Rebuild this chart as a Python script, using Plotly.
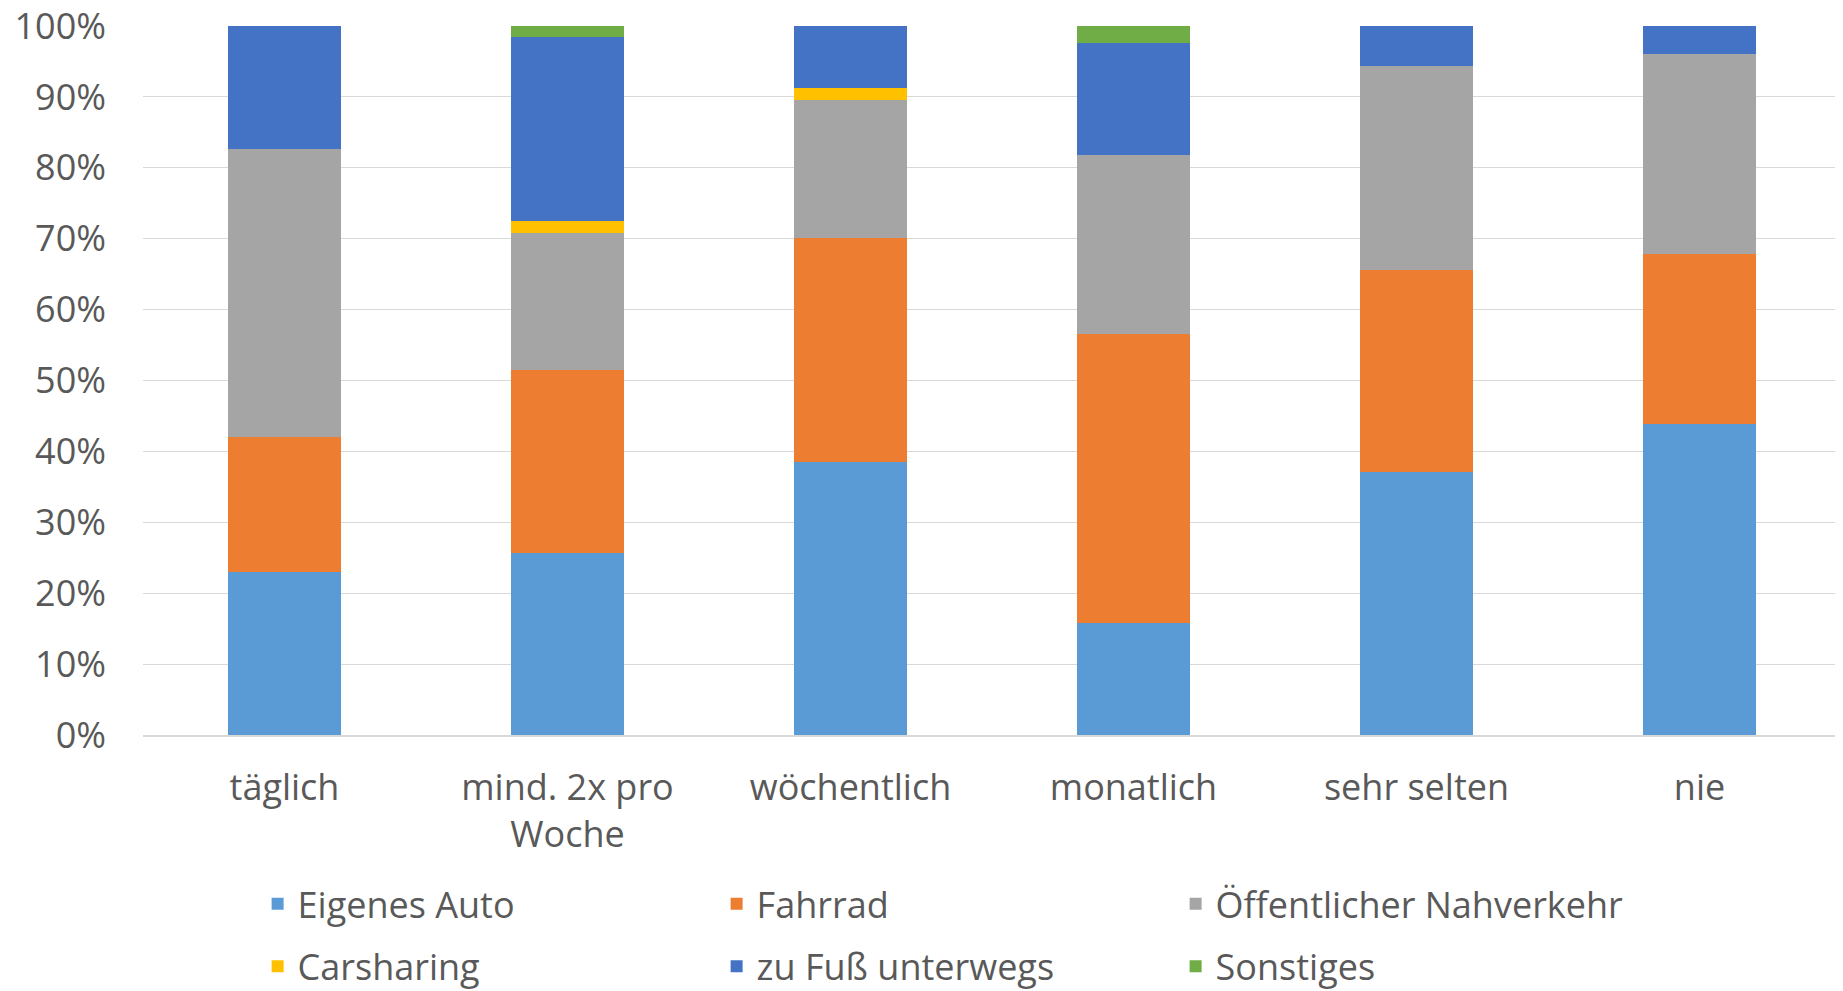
import plotly.graph_objects as go

categories = ["täglich", "mind. 2x pro<br>Woche", "wöchentlich", "monatlich", "sehr selten", "nie"]
eigenes_auto = [23.0, 25.7, 38.5, 15.8, 37.1, 43.9]
fahrrad = [19.1, 25.8, 31.6, 40.8, 28.5, 24.0]
oepnv = [40.5, 19.3, 19.4, 25.2, 28.7, 28.1]
carsharing = [0.0, 1.7, 1.7, 0.0, 0.0, 0.0]
zu_fuss = [17.4, 25.9, 8.8, 15.8, 5.7, 4.0]
sonstiges = [0.0, 1.6, 0.0, 2.4, 0.0, 0.0]
y_ticks = [0, 10, 20, 30, 40, 50, 60, 70, 80, 90, 100]
y_tick_labels = ["0%", "10%", "20%", "30%", "40%", "50%", "60%", "70%", "80%", "90%", "100%"]

series = [
    ("Eigenes Auto", eigenes_auto, "#5B9BD5", "legend"),
    ("Fahrrad", fahrrad, "#ED7D31", "legend"),
    ("Öffentlicher Nahverkehr", oepnv, "#A5A5A5", "legend"),
    ("Carsharing", carsharing, "#FFC000", "legend2"),
    ("zu Fuß unterwegs", zu_fuss, "#4472C4", "legend2"),
    ("Sonstiges", sonstiges, "#70AD47", "legend2"),
]

fig = go.Figure()
for name, vals, color, leg in series:
    fig.add_trace(go.Bar(x=categories, y=vals, name=name, marker_color=color,
                         marker_line_width=0, legend=leg))

font = dict(family="Open Sans, sans-serif", size=36, color="#595959")
fig.update_layout(
    barmode="stack",
    bargap=0.6,
    width=1835, height=983,
    margin=dict(l=135, r=2, t=18, b=256, autoexpand=False),
    paper_bgcolor="white", plot_bgcolor="white",
    font=font,
    showlegend=True,
    legend=dict(orientation="h", x=0.0675, y=-0.196, xanchor="left", yanchor="top",
                entrywidth=414, entrywidthmode="pixels", traceorder="normal",
                font=font, bgcolor="rgba(0,0,0,0)"),
    legend2=dict(orientation="h", x=0.0675, y=-0.284, xanchor="left", yanchor="top",
                 entrywidth=414, entrywidthmode="pixels", traceorder="normal",
                 font=font, bgcolor="rgba(0,0,0,0)"),
)
fig.update_yaxes(range=[0, 100], tickmode="array", tickvals=y_ticks, ticktext=y_tick_labels,
                 showgrid=True, gridcolor="#D9D9D9", gridwidth=1, zeroline=False,
                 showline=False, ticklabelstandoff=36, ticklabeloverflow="allow",
                 tickfont=font)
fig.update_xaxes(showline=True, linecolor="#D9D9D9", linewidth=2, showgrid=False,
                 tickfont=font, ticklabelstandoff=20)

fig.write_html("out.html")
